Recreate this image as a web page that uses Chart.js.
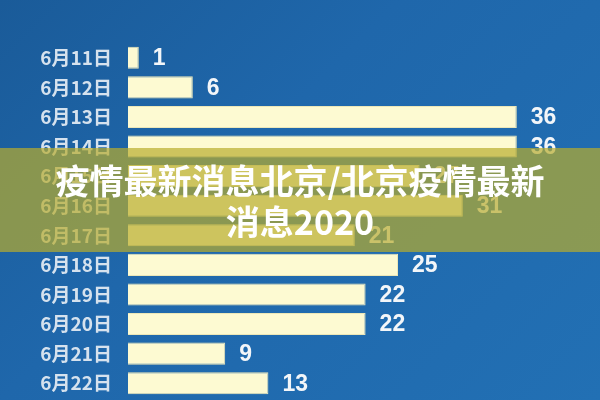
<!DOCTYPE html>
<html lang="zh">
<head>
    <meta charset="UTF-8">
    <title>疫情最新消息北京</title>
    <script src="https://cdn.jsdelivr.net/npm/chart.js"></script>
    <style>
        html, body {
            margin: 0;
            padding: 0;
        }

        body {
            width: 600px;
            height: 400px;
            overflow: hidden;
            position: relative;
            background: linear-gradient(135deg, #1a5b99 0%, #1f67ab 40%, #2270b4 100%);
            font-family: "Noto Sans CJK SC", sans-serif;
        }

        #chart {
            position: absolute;
            left: 0;
            top: 0;
        }

        .banner {
            position: absolute;
            left: 0;
            top: 148px;
            width: 600px;
            height: 104px;
            background: rgba(184, 172, 44, 0.7);
            color: #ffffff;
            font-weight: bold;
            font-size: 34px;
            line-height: 41px;
            text-align: center;
            display: flex;
            align-items: center;
            justify-content: center;
        }
    </style>
</head>
<body>
    <canvas id="chart" width="600" height="400"></canvas>
    <div class="banner"><div>疫情最新消息北京/北京疫情最新<br>消息2020</div></div>

    <script>
        const days = ['6月11日', '6月12日', '6月13日', '6月14日', '6月15日', '6月16日',
                      '6月17日', '6月18日', '6月19日', '6月20日', '6月21日', '6月22日'];
        const newCases = [1, 6, 36, 36, 27, 31, 21, 25, 22, 22, 9, 13];

        // value written just past the end of each bar
        const valueLabels = {
            id: 'valueLabels',
            afterDatasetsDraw(chart) {
                const ctx = chart.ctx;
                const meta = chart.getDatasetMeta(0);
                ctx.save();
                ctx.fillStyle = '#f3f6f9';
                ctx.font = 'bold 23px "Liberation Sans", sans-serif';
                ctx.textAlign = 'left';
                ctx.textBaseline = 'middle';
                meta.data.forEach((bar, i) => {
                    ctx.fillText(String(newCases[i]), bar.x + 14, bar.y + 1);
                });
                ctx.restore();
            }
        };

        new Chart(document.getElementById('chart'), {
            type: 'bar',
            data: {
                labels: days,
                datasets: [{
                    data: newCases,
                    backgroundColor: '#fdfad2',
                    borderColor: '#ece7b8',
                    borderWidth: 1,
                    barPercentage: 0.78,
                    categoryPercentage: 0.96
                }]
            },
            options: {
                indexAxis: 'y',
                responsive: false,
                animation: false,
                layout: {
                    padding: { top: 43, bottom: 2, left: 0, right: 40 }
                },
                plugins: {
                    legend: { display: false },
                    tooltip: { enabled: false }
                },
                scales: {
                    x: {
                        display: false,
                        min: 0,
                        max: 40
                    },
                    y: {
                        grid: { display: false, drawTicks: false },
                        border: { display: false },
                        // fixed label column, and no extra room for the end labels
                        afterFit: s => {
                            s.width = 128;
                            s.paddingTop = 0;
                            s.paddingBottom = 0;
                        },
                        ticks: {
                            color: '#d6e2ee',
                            padding: 16,
                            autoSkip: false,
                            font: { family: '"Noto Sans CJK SC", sans-serif', size: 19, weight: 'bold' }
                        }
                    }
                }
            },
            plugins: [valueLabels]
        });
    </script>
</body>
</html>
